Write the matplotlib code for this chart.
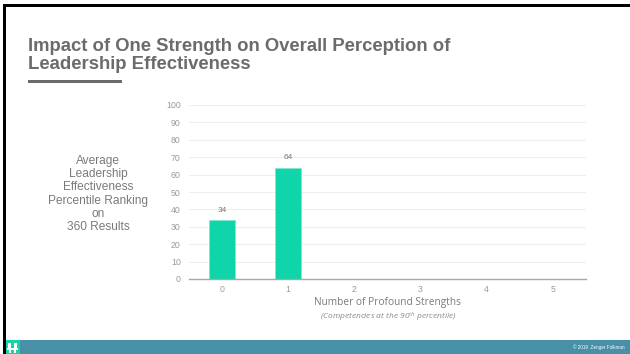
#!/usr/bin/env python3
"""Impact of one strength on overall perception of leadership effectiveness."""

import matplotlib

matplotlib.use("Agg")
import matplotlib.pyplot as plt
from matplotlib.patches import Rectangle

# data
categories = ["0", "1", "2", "3", "4", "5"]
values = [34, 64, None, None, None, None]
y_ticks = [0, 10, 20, 30, 40, 50, 60, 70, 80, 90, 100]

W, H = 630, 354
BAR = "#10d5ab"
GREY = "#6b6b6b"
TICK = "#9a9a9a"

plt.rcParams["mathtext.fontset"] = "custom"
plt.rcParams["mathtext.it"] = "Open Sans:italic"
plt.rcParams["mathtext.rm"] = "Open Sans"


def px(x, y, w, h):
    """pixel box (top-left origin) -> figure fraction rect"""
    return [x / W, 1 - (y + h) / H, w / W, h / H]


fig = plt.figure(figsize=(W / 100, H / 100), dpi=100)
fig.patch.set_facecolor("white")

# slide frame, footer, logo
bg = fig.add_axes([0, 0, 1, 1])
bg.set_xlim(0, W)
bg.set_ylim(H, 0)
bg.axis("off")
bg.add_patch(Rectangle((3, 4), W - 3, 3, color="black", lw=0))
bg.add_patch(Rectangle((3, 4), 2.5, H - 4, color="black", lw=0))
bg.add_patch(Rectangle((20, 340), W - 20, 14, color="#4790a7", lw=0))
bg.add_patch(Rectangle((5.5, 340), 14.5, 14, color="#19d3a4", lw=0))
for (lx, ly, lw_, lh) in [(8, 343, 3, 5), (14, 343, 3, 5), (7, 348, 11, 1.5), (9, 350, 2, 3), (14, 350, 2, 3)]:
    bg.add_patch(Rectangle((lx, ly), lw_, lh, color="white", lw=0))
bg.text(625, 347, "© 2019  Zenger Folkman", color="white", fontsize=3.3,
        ha="right", va="center", family="Liberation Sans")

# title
bg.text(28, 55.5, "Impact of One Strength on Overall Perception of\nLeadership Effectiveness",
        color=GREY, fontsize=13.3, fontweight="bold", family="Liberation Sans",
        ha="left", va="center", linespacing=1.1)
bg.add_patch(Rectangle((28, 79.5), 94, 3, color=GREY, lw=0))

# y label block
bg.text(98, 194, "Average\nLeadership\nEffectiveness\nPercentile Ranking\non\n360 Results",
        color="#7a7a7a", fontsize=8.6, family="Liberation Sans",
        ha="center", va="center", linespacing=1.13)

ax = fig.add_axes(px(189, 105, 397, 174))
xs = list(range(len(categories)))
bar_x = [x for x, v in zip(xs, values) if v is not None]
bar_v = [v for v in values if v is not None]
bars = ax.bar(bar_x, bar_v, width=0.4, color=BAR, edgecolor="#7eead0", linewidth=0.6, zorder=3)
for b, v in zip(bars, bar_v):
    ax.annotate(str(v), (b.get_x() + b.get_width() / 2, v), xytext=(0, 4.5),
                textcoords="offset points", ha="center", va="bottom",
                fontsize=6, color="#777777", family="Liberation Sans")

ax.set_xlim(-0.5, len(categories) - 0.5)
ax.set_ylim(0, 100)
ax.set_xticks(xs)
ax.set_xticklabels(categories)
ax.set_yticks(y_ticks)
ax.tick_params(length=0, labelsize=6.3, labelcolor=TICK)
ax.tick_params(axis="x", pad=4)
ax.tick_params(axis="y", pad=6)
for lab in ax.get_xticklabels() + ax.get_yticklabels():
    lab.set_family("Liberation Sans")
ax.grid(axis="y", color="#eeeeee", lw=0.8, zorder=0)
for s in ["top", "right", "left"]:
    ax.spines[s].set_visible(False)
ax.spines["bottom"].set_color("#a8a8a8")
ax.spines["bottom"].set_linewidth(1.0)
ax.spines["bottom"].set_zorder(4)

# x label + note
bg.text(388, 302, "Number of Profound Strengths", color="#7a7a7a", fontsize=7.3,
        family="Open Sans", ha="center", va="center")
bg.text(388, 317, r"(Competencies at the 90$^{\mathit{th}}$ percentile)", color="#8a8a8a",
        fontsize=6, family="Open Sans", style="italic", ha="center", va="center")

fig.savefig("out.png", dpi=100)
